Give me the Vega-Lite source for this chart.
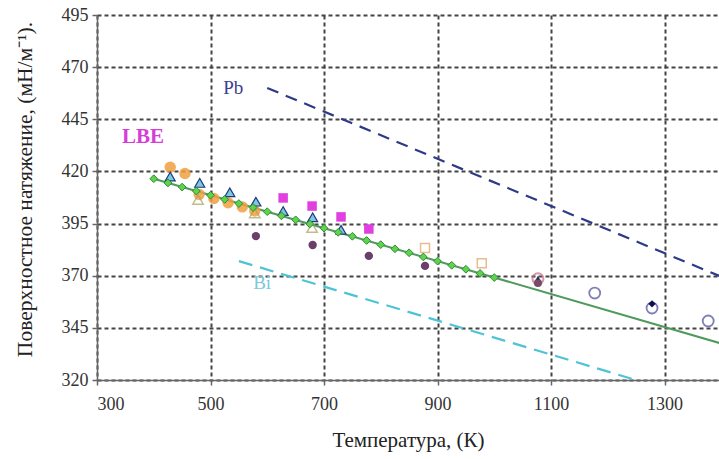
{
  "$schema": "https://vega.github.io/schema/vega-lite/v6.json",
  "autosize": "none",
  "padding": {"left": 97, "top": 15, "right": 0, "bottom": 79},
  "width": 622,
  "height": 365,
  "background": "white",
  "config": {
    "view": {"stroke": null},
    "font": "Liberation Serif",
    "axis": {
      "labelFont": "Liberation Serif",
      "titleFont": "Liberation Serif",
      "labelFontSize": 18,
      "titleFontSize": 21,
      "labelColor": "#333333",
      "titleColor": "#222222",
      "titleFontWeight": "normal",
      "domainColor": "#666666",
      "domainWidth": 1.5,
      "tickColor": "#666666",
      "tickWidth": 1.5,
      "tickSize": 5,
      "gridColor": "#444444",
      "gridDash": [4, 3],
      "gridWidth": 2,
      "gridOpacity": 1
    }
  },
  "layer": [
    {
      "data": {"values": [
        {"series": "Pb", "T": 600, "s": 460},
        {"series": "Pb", "T": 1400, "s": 369.5}
      ]},
      "mark": {"type": "line", "color": "#2e3a87", "strokeWidth": 2.2, "strokeDash": [12, 8], "clip": true},
      "encoding": {
        "x": {"field": "T", "type": "quantitative", "scale": {"domain": [300, 1396], "nice": false},
          "axis": {"values": [300, 500, 700, 900, 1100, 1300], "format": "d", "title": "Температура, (К)", "titleY": 60, "titleBaseline": "middle", "labelPadding": 10}},
        "y": {"field": "s", "type": "quantitative", "scale": {"domain": [320, 495], "nice": false, "zero": false},
          "axis": {"values": [320, 345, 370, 395, 420, 445, 470, 495], "title": "Поверхностное натяжение, (мН/м⁻¹).", "titleFontSize": 21.5, "titleX": -72, "titleY": 174, "titleAngle": -90, "titleAlign": "center", "titleBaseline": "middle", "labelPadding": 4}}
      }
    },
    {
      "data": {"values": [
        {"series": "Bi", "T": 550, "s": 377},
        {"series": "Bi", "T": 1262, "s": 319}
      ]},
      "mark": {"type": "line", "color": "#4fc3d6", "strokeWidth": 2.2, "strokeDash": [14, 8], "clip": true},
      "encoding": {"x": {"field": "T", "type": "quantitative"}, "y": {"field": "s", "type": "quantitative"}}
    },
    {
      "data": {"values": [
        {"series": "LBE fit", "T": 400, "s": 416.5},
        {"series": "LBE fit", "T": 1400, "s": 337.5}
      ]},
      "mark": {"type": "line", "color": "#4f9a5c", "strokeWidth": 2, "clip": true},
      "encoding": {"x": {"field": "T", "type": "quantitative"}, "y": {"field": "s", "type": "quantitative"}}
    },
    {
      "data": {"values": [
        {"T": 429, "s": 422}, {"T": 455, "s": 419}, {"T": 480, "s": 409},
        {"T": 506, "s": 407}, {"T": 531, "s": 405}, {"T": 556, "s": 403}, {"T": 578, "s": 401}
      ]},
      "mark": {"type": "point", "shape": "circle", "filled": true, "color": "#f0a040", "opacity": 0.85, "size": 130},
      "encoding": {"x": {"field": "T", "type": "quantitative"}, "y": {"field": "s", "type": "quantitative"}}
    },
    {
      "data": {"values": [
        {"T": 478, "s": 406.5}, {"T": 578, "s": 400}, {"T": 679, "s": 393}
      ]},
      "mark": {"type": "point", "shape": "triangle-up", "filled": false, "color": "#a8a060", "strokeWidth": 1.5, "size": 110},
      "encoding": {"x": {"field": "T", "type": "quantitative"}, "y": {"field": "s", "type": "quantitative"}}
    },
    {
      "data": {"values": [
        {"T": 429, "s": 417.5}, {"T": 481, "s": 414.5}, {"T": 534, "s": 410}, {"T": 580, "s": 405.5},
        {"T": 628, "s": 401}, {"T": 680, "s": 398}, {"T": 730, "s": 392}
      ]},
      "mark": {"type": "point", "shape": "triangle-up", "filled": true, "fill": "#7ec8e3", "stroke": "#1f3a7a", "strokeWidth": 1.2, "opacity": 1, "size": 100},
      "encoding": {"x": {"field": "T", "type": "quantitative"}, "y": {"field": "s", "type": "quantitative"}}
    },
    {
      "data": {"values": [
        {"T": 628, "s": 407.3}, {"T": 679, "s": 403.4}, {"T": 730, "s": 398.2}, {"T": 779, "s": 392.4}
      ]},
      "mark": {"type": "point", "shape": "square", "filled": true, "color": "#e040e0", "opacity": 1, "size": 90},
      "encoding": {"x": {"field": "T", "type": "quantitative"}, "y": {"field": "s", "type": "quantitative"}}
    },
    {
      "data": {"values": [
        {"T": 580, "s": 389}, {"T": 680, "s": 384.7}, {"T": 779, "s": 379.5}, {"T": 878, "s": 374.7}
      ]},
      "mark": {"type": "point", "shape": "circle", "filled": true, "color": "#6b3f6b", "opacity": 1, "size": 70},
      "encoding": {"x": {"field": "T", "type": "quantitative"}, "y": {"field": "s", "type": "quantitative"}}
    },
    {
      "data": {"values": [
        {"T": 878, "s": 383.3}, {"T": 978, "s": 376}
      ]},
      "mark": {"type": "point", "shape": "square", "filled": false, "color": "#e0a060", "strokeWidth": 1.5, "size": 80},
      "encoding": {"x": {"field": "T", "type": "quantitative"}, "y": {"field": "s", "type": "quantitative"}}
    },
    {
      "data": {"values": [
        {"T": 1077, "s": 368.5}
      ]},
      "mark": {"type": "point", "shape": "circle", "filled": false, "color": "#c06a80", "strokeWidth": 2, "size": 120},
      "encoding": {"x": {"field": "T", "type": "quantitative"}, "y": {"field": "s", "type": "quantitative"}}
    },
    {
      "data": {"values": [
        {"T": 1077, "s": 366.5}
      ]},
      "mark": {"type": "point", "shape": "circle", "filled": true, "color": "#7a4a6a", "opacity": 1, "size": 65},
      "encoding": {"x": {"field": "T", "type": "quantitative"}, "y": {"field": "s", "type": "quantitative"}}
    },
    {
      "data": {"values": [
        {"T": 1077, "s": 369}
      ]},
      "mark": {"type": "point", "shape": "triangle-up", "filled": true, "color": "#2a2a4a", "opacity": 1, "size": 20},
      "encoding": {"x": {"field": "T", "type": "quantitative"}, "y": {"field": "s", "type": "quantitative"}}
    },
    {
      "data": {"values": [
        {"T": 1177, "s": 361.7}, {"T": 1278, "s": 354.5}, {"T": 1377, "s": 348.3}
      ]},
      "mark": {"type": "point", "shape": "circle", "filled": false, "color": "#4a4a9a", "strokeWidth": 1.8, "size": 120},
      "encoding": {"x": {"field": "T", "type": "quantitative"}, "y": {"field": "s", "type": "quantitative"}}
    },
    {
      "data": {"values": [
        {"T": 1278, "s": 356.5}
      ]},
      "mark": {"type": "point", "shape": "diamond", "filled": true, "color": "#101050", "opacity": 1, "size": 55},
      "encoding": {"x": {"field": "T", "type": "quantitative"}, "y": {"field": "s", "type": "quantitative"}}
    },
    {
      "data": {"values": [
        {"T": 400, "s": 416.5}, {"T": 425, "s": 414.5}, {"T": 450, "s": 412.5}, {"T": 475, "s": 410.6},
        {"T": 500, "s": 408.6}, {"T": 525, "s": 406.6}, {"T": 550, "s": 404.6}, {"T": 575, "s": 402.7},
        {"T": 600, "s": 400.7}, {"T": 625, "s": 398.7}, {"T": 650, "s": 396.8}, {"T": 675, "s": 394.8},
        {"T": 700, "s": 392.8}, {"T": 725, "s": 390.8}, {"T": 750, "s": 388.9}, {"T": 775, "s": 386.9},
        {"T": 800, "s": 384.9}, {"T": 825, "s": 382.9}, {"T": 850, "s": 381.0}, {"T": 875, "s": 379.0},
        {"T": 900, "s": 377.0}, {"T": 925, "s": 375.0}, {"T": 950, "s": 373.1}, {"T": 975, "s": 371.1},
        {"T": 1000, "s": 369.1}
      ]},
      "mark": {"type": "point", "shape": "diamond", "filled": true, "fill": "#5fd34a", "stroke": "#2e8b3a", "strokeWidth": 1, "opacity": 1, "size": 60},
      "encoding": {"x": {"field": "T", "type": "quantitative"}, "y": {"field": "s", "type": "quantitative"}}
    },
    {
      "data": {"values": [
        {"label": "LBE", "T": 381, "s": 436.5}
      ]},
      "mark": {"type": "text", "font": "Liberation Serif", "fontSize": 21, "fontWeight": "bold", "color": "#d63fd6"},
      "encoding": {"x": {"field": "T", "type": "quantitative"}, "y": {"field": "s", "type": "quantitative"}, "text": {"field": "label"}}
    },
    {
      "data": {"values": [
        {"label": "Pb", "T": 540, "s": 460}
      ]},
      "mark": {"type": "text", "font": "Liberation Serif", "fontSize": 19, "color": "#3a3f8f"},
      "encoding": {"x": {"field": "T", "type": "quantitative"}, "y": {"field": "s", "type": "quantitative"}, "text": {"field": "label"}}
    },
    {
      "data": {"values": [
        {"label": "Bi", "T": 591, "s": 366.5}
      ]},
      "mark": {"type": "text", "font": "Liberation Serif", "fontSize": 19, "color": "#7cc8d8"},
      "encoding": {"x": {"field": "T", "type": "quantitative"}, "y": {"field": "s", "type": "quantitative"}, "text": {"field": "label"}}
    }
  ]
}
